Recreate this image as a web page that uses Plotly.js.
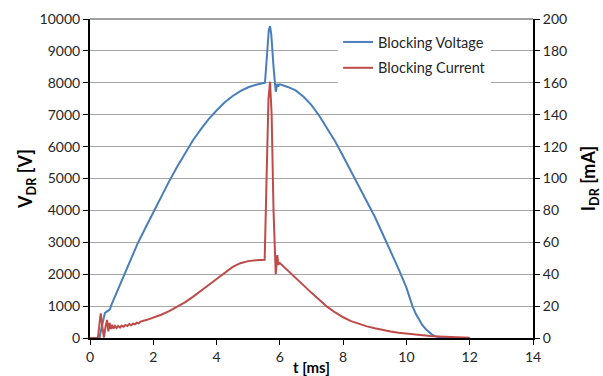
<!DOCTYPE html>
<html>
<head>
<meta charset="utf-8">
<script src="https://cdn.plot.ly/plotly-3.0.1.min.js"></script>
<style>html,body{margin:0;padding:0;background:#fff}#chart{width:603px;height:376px}</style>
</head>
<body>
<div id="chart"></div>
<script>
// Blocking voltage (V) vs time (ms)
const voltageT = [0, 0.3, 0.36, 0.42, 0.47, 0.52, 0.58, 0.63, 0.68, 0.74, 0.85, 1.0, 1.25, 1.5, 1.75, 2.0, 2.25, 2.5, 2.75, 3.0, 3.25, 3.5, 3.75, 4.0, 4.25, 4.5, 4.75, 5.0, 5.25, 5.53, 5.6, 5.65, 5.69, 5.73, 5.8, 5.87, 5.92, 5.95, 5.97, 6.0, 6.25, 6.5, 6.75, 7.0, 7.25, 7.5, 7.75, 8.0, 8.25, 8.5, 8.75, 9.0, 9.25, 9.5, 9.75, 10.0, 10.19, 10.3, 10.4, 10.5, 10.6, 10.7, 10.8, 10.9, 11.0, 11.1, 12.0];
const voltageV = [0, 0, 300, 600, 780, 820, 850, 900, 1050, 1190, 1480, 1800, 2400, 2950, 3450, 3950, 4440, 4910, 5360, 5790, 6190, 6540, 6860, 7130, 7380, 7580, 7740, 7860, 7940, 8000, 9000, 9650, 9780, 9500, 8500, 7720, 7970, 7880, 7940, 7950, 7870, 7760, 7560, 7300, 6960, 6560, 6160, 5700, 5230, 4760, 4290, 3800, 3260, 2720, 2170, 1580, 1000, 750, 560, 410, 290, 190, 115, 60, 25, 0, 0];

// Blocking current (mA) vs time (ms)
const currentT = [0, 0.25, 0.3, 0.34, 0.39, 0.44, 0.49, 0.54, 0.58, 0.62, 0.66, 0.7, 0.74, 0.79, 0.84, 0.89, 0.95, 1.0, 1.06, 1.12, 1.18, 1.24, 1.3, 1.36, 1.42, 1.48, 1.54, 1.6, 1.8, 2.0, 2.25, 2.5, 2.75, 3.0, 3.25, 3.5, 3.75, 4.0, 4.25, 4.5, 4.75, 5.0, 5.25, 5.52, 5.58, 5.64, 5.69, 5.74, 5.8, 5.87, 5.92, 5.95, 6.0, 6.25, 6.5, 6.75, 7.0, 7.25, 7.5, 7.75, 8.0, 8.25, 8.5, 8.75, 9.0, 9.25, 9.5, 9.75, 10.0, 10.25, 10.5, 10.75, 11.0, 11.5, 12.0];
const currentI = [0, 0, 9, 15.5, 7, 0.3, 7, 11.3, 4.2, 9.4, 5.6, 8.3, 5.8, 7.6, 6.2, 7.6, 6.6, 7.8, 7, 8.2, 7.5, 8.7, 8, 9, 8.5, 9.6, 9.2, 10.3, 11.4, 12.7, 14.6, 16.8, 19.3, 22.3, 25.8, 29.3, 33.2, 37, 41, 44.4, 46.9, 48.2, 48.8, 49, 100, 150, 160.7, 140, 80, 40, 52, 46, 47, 42.5, 38, 33, 28.3, 24, 19.5, 16, 13, 10.6, 8.7, 7.3, 6.1, 5, 4.1, 3.3, 2.7, 2.2, 1.7, 1.3, 1.0, 0.5, 0.2];

const seriesNames = ['Blocking Voltage', 'Blocking Current'];
const xTicks = [0, 2, 4, 6, 8, 10, 12, 14];

const FONT = 'Lato, "Liberation Sans", sans-serif';

const traces = [
  {x: voltageT, y: voltageV, name: seriesNames[0], type: 'scatter', mode: 'lines',
   line: {color: '#4A7EBB', width: 2}, yaxis: 'y', legendgroup: 'a'},
  {x: currentT, y: currentI, name: seriesNames[1], type: 'scatter', mode: 'lines',
   line: {color: '#BE4B48', width: 2}, yaxis: 'y2', legendgroup: 'b'}
];

const layout = {
  width: 603, height: 376,
  margin: {l: 90, r: 70, t: 19, b: 38},
  paper_bgcolor: '#fff', plot_bgcolor: '#fff',
  font: {family: FONT, size: 14, color: '#262626'},
  showlegend: true,
  legend: {x: 0.56, y: 0.978, xanchor: 'left', yanchor: 'top', bgcolor: '#fff',
           font: {family: FONT, size: 14.5, color: '#262626'}, tracegroupgap: 4,
           traceorder: 'grouped', itemwidth: 30},
  xaxis: {range: [0, 14], tickvals: xTicks, showgrid: false, zeroline: false,
          showline: true, linecolor: '#000', linewidth: 2,
          ticks: 'outside', ticklen: 5, tickcolor: '#000', tickwidth: 1,
          tickfont: {family: FONT, size: 14, color: '#262626'},
          title: {text: '<b>t [ms]</b>', font: {family: FONT, size: 15, color: '#000'}, standoff: 8},
          fixedrange: true},
  yaxis: {range: [0, 10000], dtick: 1000, tickformat: 'd', showgrid: true, gridcolor: '#A6A6A6', gridwidth: 1,
          zeroline: false, showline: true, linecolor: '#000', linewidth: 2,
          ticks: 'outside', ticklen: 5, tickcolor: '#000', tickwidth: 1,
          tickfont: {family: FONT, size: 14, color: '#262626'},
          title: {text: '<b>V<sub>DR</sub> [V]</b>', font: {family: FONT, size: 18, color: '#000'}, standoff: 2},
          fixedrange: true},
  yaxis2: {range: [0, 200], dtick: 20, tickformat: 'd', overlaying: 'y', side: 'right', showgrid: false,
           zeroline: false, showline: true, linecolor: '#000', linewidth: 2,
           ticks: 'outside', ticklen: 5, tickcolor: '#000', tickwidth: 1,
           tickfont: {family: FONT, size: 14, color: '#262626'},
           title: {text: '<b>I<sub>DR</sub> [mA]</b>', font: {family: FONT, size: 18, color: '#000'}, standoff: 16},
           fixedrange: true},
  shapes: [{type: 'line', xref: 'paper', yref: 'paper', x0: 0, x1: 1, y0: 1, y1: 1,
            line: {color: '#404040', width: 1}}]
};

Plotly.newPlot('chart', traces, layout, {displayModeBar: false, staticPlot: true});
</script>
</body>
</html>
